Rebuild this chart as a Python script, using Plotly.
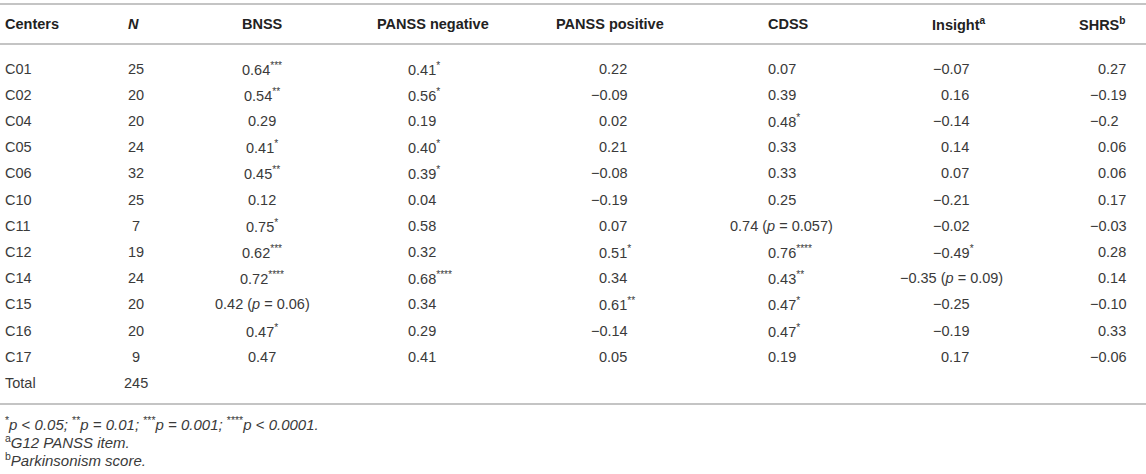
import plotly.graph_objects as go

# ---------------- data ----------------
centers = ["C01", "C02", "C04", "C05", "C06", "C10", "C11", "C12", "C14", "C15", "C16", "C17", "Total"]
n_values = ["25", "20", "20", "24", "32", "25", "7", "19", "24", "20", "20", "9", "245"]

bnss = ["0.64", "0.54", "0.29", "0.41", "0.45", "0.12", "0.75", "0.62", "0.72", "0.42", "0.47", "0.47"]
bnss_sig = ["***", "**", "", "*", "**", "", "*", "***", "****", "p=0.06", "*", ""]

panss_neg = ["0.41", "0.56", "0.19", "0.40", "0.39", "0.04", "0.58", "0.32", "0.68", "0.34", "0.29", "0.41"]
panss_neg_sig = ["*", "*", "", "*", "*", "", "", "", "****", "", "", ""]

panss_pos = ["0.22", "-0.09", "0.02", "0.21", "-0.08", "-0.19", "0.07", "0.51", "0.34", "0.61", "-0.14", "0.05"]
panss_pos_sig = ["", "", "", "", "", "", "", "*", "", "**", "", ""]

cdss = ["0.07", "0.39", "0.48", "0.33", "0.33", "0.25", "0.74", "0.76", "0.43", "0.47", "0.47", "0.19"]
cdss_sig = ["", "", "*", "", "", "", "p=0.057", "****", "**", "*", "*", ""]

insight = ["-0.07", "0.16", "-0.14", "0.14", "0.07", "-0.21", "-0.02", "-0.49", "-0.35", "-0.25", "-0.19", "0.17"]
insight_sig = ["", "", "", "", "", "", "", "*", "p=0.09", "", "", ""]

shrs = ["0.27", "-0.19", "-0.2", "0.06", "0.06", "0.17", "-0.03", "0.28", "0.14", "-0.10", "0.33", "-0.06"]
shrs_sig = ["", "", "", "", "", "", "", "", "", "", "", ""]

headers = ["Centers", "<i>N</i>", "BNSS", "PANSS negative", "PANSS positive", "CDSS",
           "Insight<sup>a</sup>", "SHRS<sup>b</sup>"]

footnotes = [
    "<sup>*</sup><i>p</i> &lt; <i>0.05; </i><sup>**</sup><i>p</i> <i>= 0.01; </i><sup>***</sup><i>p</i> <i>= 0.001; </i><sup>****</sup><i>p</i> &lt; <i>0.0001.</i>",
    "<sup>a</sup><i>G12 PANSS item.</i>",
    "<sup>b</sup><i>Parkinsonism score.</i>",
]

# ---------------- layout constants ----------------
W, H = 1146, 474
FONT = "Liberation Sans"
FS = 14.5
BODY = "#3a3a3a"
HEAD = "#222222"
RULE = "#c4c4c4"
ROW0, DY = 68.5, 26.2
HEADER_Y = 23.5
MINUS_W = 0.584 * FS  # width of U+2212 in Liberation Sans

row_y = [ROW0 + i * DY for i in range(len(centers))]


def fmt(v, sig):
    v = v.replace("-", "\u2212")
    if sig.startswith("p="):
        return v + " (<i>p</i> = " + sig[2:] + ")"
    if sig:
        return v + "<sup>" + sig + "</sup>"
    return v


fig = go.Figure()
fig.add_trace(go.Scatter(x=[0, W], y=[0, H], mode="markers", marker=dict(opacity=0),
                         hoverinfo="skip", showlegend=False))

annos = []


def add_text(x, y, text, anchor, size=FS, color=BODY):
    annos.append(dict(x=x, y=y, xref="x", yref="y", text=text, showarrow=False,
                      xanchor=anchor, yanchor="middle", align=anchor,
                      font=dict(family=FONT, size=size, color=color)))


# Headers
hdr_pos = [(3, "left"), (133, "center"), (262, "center"), (433, "center"),
           (610, "center"), (788, "center"), (959, "center"), (1127, "right")]
for h, (hx, ha) in zip(headers, hdr_pos):
    add_text(hx, HEADER_Y, "<b>" + h + "</b>", ha, color=HEAD)

for i, c in enumerate(centers):
    add_text(3, row_y[i], c, "left")
for i, nv in enumerate(n_values):
    add_text(136, row_y[i], nv, "center")
for i, (v, s) in enumerate(zip(bnss, bnss_sig)):
    add_text(262, row_y[i], fmt(v, s), "center")

# Decimal-aligned columns: (values, sig, digit start x, center x for p-notes)
dec_cols = [
    (panss_neg, panss_neg_sig, 406, 420),
    (panss_pos, panss_pos_sig, 597, 610),
    (cdss, cdss_sig, 766, 781),
    (insight, insight_sig, 939, 951),
    (shrs, shrs_sig, 1096, 1104),
]
for vals, sigs, xd, xc in dec_cols:
    for i, (v, s) in enumerate(zip(vals, sigs)):
        if s.startswith("p="):
            add_text(xc, row_y[i], fmt(v, s), "center")
        else:
            add_text(xd - (MINUS_W if v.startswith("-") else 0), row_y[i], fmt(v, s), "left")

for fy, ft in zip([423, 441, 459], footnotes):
    add_text(3, fy, ft, "left", size=15)

shapes = [dict(type="line", xref="x", yref="y", x0=0, x1=W, y0=yy, y1=yy,
               line=dict(color=RULE, width=2)) for yy in (4, 44, 404)]

fig.update_layout(
    width=W, height=H, margin=dict(l=0, r=0, t=0, b=0),
    paper_bgcolor="white", plot_bgcolor="white",
    xaxis=dict(range=[0, W], visible=False, fixedrange=True),
    yaxis=dict(range=[H, 0], visible=False, fixedrange=True),
    font=dict(family=FONT, size=FS, color=BODY),
    annotations=annos, shapes=shapes,
)

fig.write_html("out.html", config={"displayModeBar": False},
               post_script="document.body.style.margin='0';document.body.style.overflow='hidden';")
